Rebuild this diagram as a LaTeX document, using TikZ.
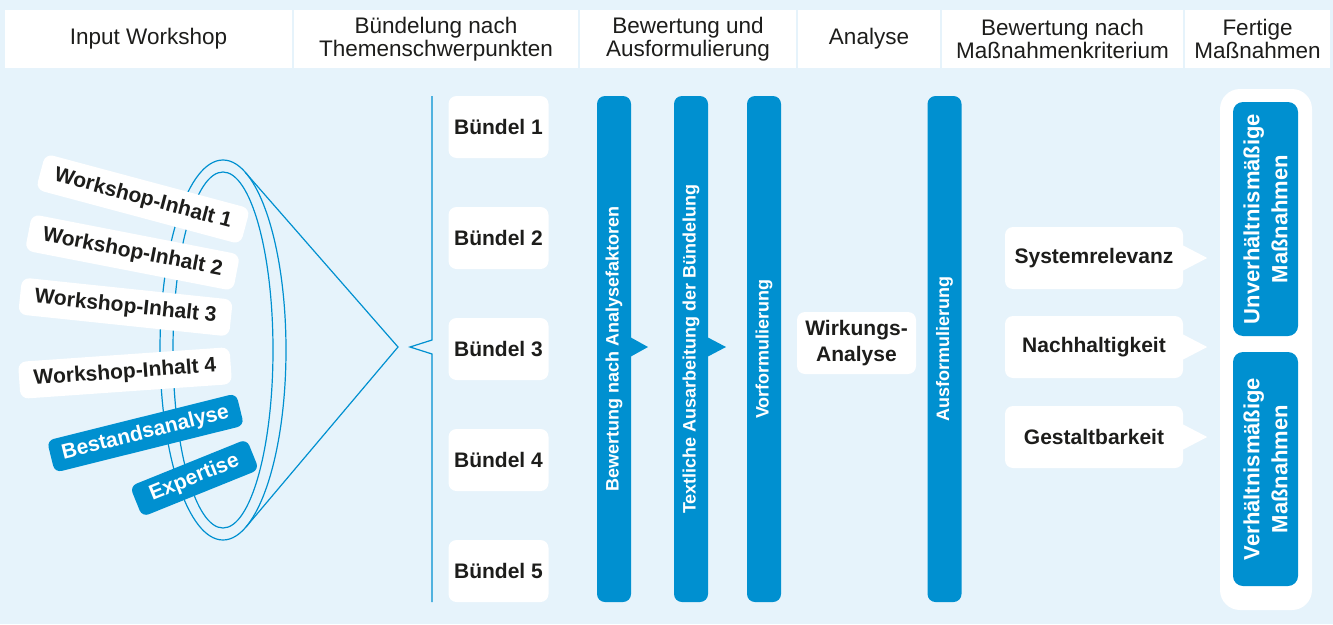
\documentclass[tikz,border=0pt]{standalone}
\usepackage{fontspec}
\setmainfont{Liberation Sans}
\definecolor{bg}{HTML}{E6F3FB}
\definecolor{ibblue}{HTML}{0090D0}
\definecolor{ink}{HTML}{1D1D1B}

\begin{document}
\begin{tikzpicture}[x=1pt,y=-1pt,
  head/.style={fill=white, text=ink, align=center, inner sep=0pt, minimum height=58pt, font=\fontsize{22.5}{23}\selectfont},
  card/.style={fill=white, text=ink, rounded corners=8pt, inner sep=0pt, align=center, font=\bfseries\fontsize{21}{26}\selectfont},
  tag/.style={fill=ibblue, text=white, rounded corners=7pt, inner sep=0pt, minimum height=33pt, font=\bfseries\fontsize{21}{25}\selectfont},
  bar/.style={fill=ibblue, text=white, rounded corners=8pt, inner sep=0pt, rotate=90, minimum width=506pt, minimum height=34pt, font=\bfseries\fontsize{18}{20}\selectfont},
  result/.style={fill=ibblue, text=white, rounded corners=10pt, inner sep=0pt, rotate=90, align=center, minimum width=234pt, minimum height=65pt, font=\bfseries\fontsize{22}{28}\selectfont},
  funnel/.style={draw=ibblue, line width=1.2pt}]
\path[use as bounding box, fill=bg] (0,0) rectangle (1333,624);

% header row
\node[head, minimum width=287pt] (h1) at (148.5,39) {Input Workshop};
\node[head, minimum width=284pt] (h2) at (436,39) {Bündelung nach\\Themenschwerpunkten};
\node[head, minimum width=216pt] (h3) at (688,39) {Bewertung und\\Ausformulierung};
\node[head, minimum width=142pt] (h4) at (869,39) {Analyse};
\node[head, minimum width=241pt] (h5) at (1062.5,39) {Bewertung nach\\Maßnahmenkriterium};
\node[head, minimum width=145pt] (h6) at (1257.5,39) {Fertige\\Maßnahmen};

% funnel
\coordinate (tip) at (398,347);
\coordinate (ct) at (245.3,172.4);
\coordinate (cb) at (246,527);
\draw[funnel] (223,350) ellipse [x radius=63, y radius=190];
\draw[funnel] (223,350) ellipse [x radius=50, y radius=178];
\draw[funnel] (ct) -- (tip) -- (cb);

% inputs
\node[card, rotate=-15, minimum width=212pt, minimum height=37pt] (w1) at (143,199) {Workshop-Inhalt 1};
\node[card, rotate=-11, minimum width=212pt, minimum height=37pt] (w2) at (132.5,252.5) {Workshop-Inhalt 2};
\node[card, rotate=-6, minimum width=212pt, minimum height=37pt] (w3) at (125.5,307) {Workshop-Inhalt 3};
\node[card, rotate=4, minimum width=212pt, minimum height=37pt] (w4) at (125,373) {Workshop-Inhalt 4};
\node[tag, rotate=14, minimum width=195pt] (ba) at (145.5,433) {Bestandsanalyse};
\node[tag, rotate=22, minimum width=126pt] (ex) at (194.5,478) {Expertise};

% bracket
\draw[funnel] (432,96) -- (432,340) -- (410,347) -- (432,354) -- (432,602);

% bundles
\node[card, minimum width=100pt, minimum height=62pt] (bu1) at (498.5,127) {Bündel 1};
\node[card, minimum width=100pt, minimum height=62pt] (bu2) at (498.5,238) {Bündel 2};
\node[card, minimum width=100pt, minimum height=62pt] (bu3) at (498.5,349) {Bündel 3};
\node[card, minimum width=100pt, minimum height=62pt] (bu4) at (498.5,460) {Bündel 4};
\node[card, minimum width=100pt, minimum height=62pt] (bu5) at (498.5,571) {Bündel 5};

% bars
\node[bar] (b1) at (614,349) {Bewertung nach Analysefaktoren};
\node[bar] (b2) at (691,349) {Textliche Ausarbeitung der Bündelung};
\node[bar] (b3) at (764,349) {Vorformulierung};
\node[bar] (b4) at (944.5,349) {Ausformulierung};
\fill[ibblue] ([xshift=16pt,yshift=12pt]b1.center) -- ([xshift=34pt,yshift=2pt]b1.center) -- ([xshift=16pt,yshift=-8pt]b1.center) -- cycle;
\fill[ibblue] ([xshift=16pt,yshift=12pt]b2.center) -- ([xshift=35pt,yshift=2pt]b2.center) -- ([xshift=16pt,yshift=-8pt]b2.center) -- cycle;

% analysis
\node[card, minimum width=119pt, minimum height=62pt] (wa) at (856.5,343) {Wirkungs-\\Analyse};

% criteria
\node[card, minimum width=178pt, minimum height=62pt] (c1) at (1094,258) {Systemrelevanz};
\node[card, minimum width=178pt, minimum height=62pt] (c2) at (1094,347) {Nachhaltigkeit};
\node[card, minimum width=178pt, minimum height=62pt] (c3) at (1094,437) {Gestaltbarkeit};
\fill[white] ([xshift=-1pt,yshift=13pt]c1.east) -- ([xshift=24pt]c1.east) -- ([xshift=-1pt,yshift=-13pt]c1.east) -- cycle;
\fill[white] ([xshift=-1pt,yshift=13pt]c2.east) -- ([xshift=24pt]c2.east) -- ([xshift=-1pt,yshift=-13pt]c2.east) -- cycle;
\fill[white] ([xshift=-1pt,yshift=13pt]c3.east) -- ([xshift=24pt]c3.east) -- ([xshift=-1pt,yshift=-13pt]c3.east) -- cycle;

% results
\node[fill=white, rounded corners=20pt, inner sep=0pt, minimum width=92pt, minimum height=521pt] (out) at (1266,349.5) {};
\node[result] (r1) at (1265.5,219) {Unverhältnismäßige\\Maßnahmen};
\node[result] (r2) at (1265.5,469) {Verhältnismäßige\\Maßnahmen};
\end{tikzpicture}
\end{document}
